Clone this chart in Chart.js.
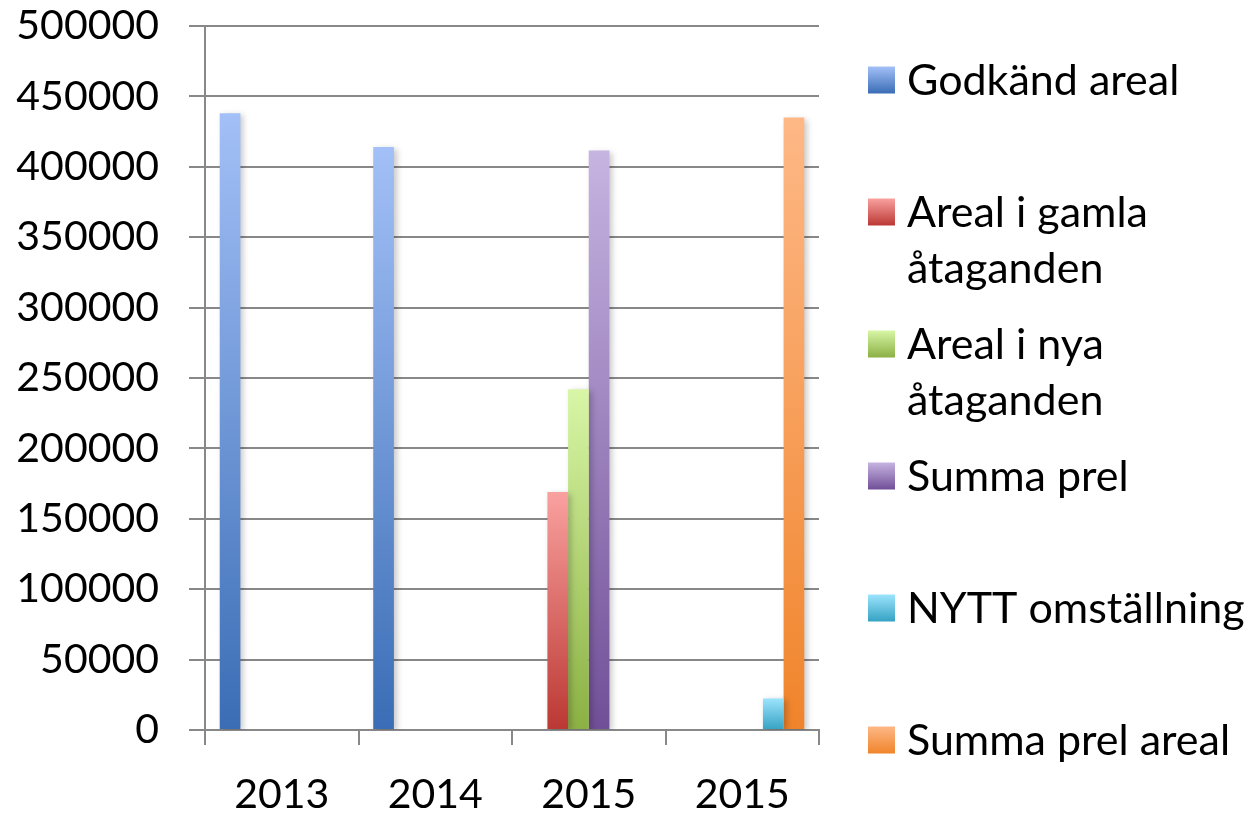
<!DOCTYPE html>
<html>
<head>
<meta charset="utf-8">
<script src="https://cdn.jsdelivr.net/npm/chart.js@4.4.1/dist/chart.umd.min.js"></script>
<style>
  html, body { margin: 0; padding: 0; background: #fff; }
  #wrap { width: 1254px; height: 813px; }
</style>
</head>
<body>
<div id="wrap"><canvas id="myChart" width="1254" height="813"></canvas></div>
<script>
const years = ['2013', '2014', '2015', '2015'];

const godkandAreal = [438000, 414000, null, null];
const arealGamla = [null, null, 169000, null];
const arealNya = [null, null, 242000, null];
const summaPrel = [null, null, 411500, null];
const nyttOmstallning = [null, null, null, 22400];
const summaPrelAreal = [null, null, null, 435000];

const yTicks = [0, 50000, 100000, 150000, 200000, 250000, 300000, 350000, 400000, 450000, 500000];

// legend text, split where the original wraps
const legendLabels = [
  ['Godkänd areal'],
  ['Areal i gamla', 'åtaganden'],
  ['Areal i nya', 'åtaganden'],
  ['Summa prel'],
  ['NYTT omställning'],
  ['Summa prel areal'],
];

// light top / dark bottom, like the office gradient fill
const shades = [
  ['#a3c0f7', '#3a6db5'],
  ['#f9a19f', '#bb3833'],
  ['#d8f6a6', '#8bb043'],
  ['#c6b4e1', '#714f98'],
  ['#9ce4fd', '#35a2c3'],
  ['#feb886', '#f0842b'],
];

const FONT = 'Lato, "Open Sans", sans-serif';

const barFill = (idx) => (ctx) => {
  const chart = ctx.chart;
  const y = chart.scales && chart.scales.y;
  if (!chart.chartArea || !y || ctx.raw == null) return shades[idx][1];
  const top = y.getPixelForValue(ctx.raw);
  const bottom = y.getPixelForValue(0);
  if (!(bottom > top)) return shades[idx][1];
  const g = chart.ctx.createLinearGradient(0, top, 0, bottom);
  g.addColorStop(0, shades[idx][0]);
  g.addColorStop(1, shades[idx][1]);
  return g;
};

const series = [godkandAreal, arealGamla, arealNya, summaPrel, nyttOmstallning, summaPrelAreal];

const chartData = {
  labels: years,
  datasets: series.map((values, i) => ({
    label: legendLabels[i].join(' '),
    data: values,
    backgroundColor: barFill(i),
    borderWidth: 0,
    barPercentage: 1.0,
    categoryPercentage: 0.808,
  })),
};

// soft drop shadow behind the bars
const barShadow = {
  id: 'barShadow',
  beforeDatasetsDraw(chart) {
    const c = chart.ctx;
    c.save();
    c.shadowColor = 'rgba(0, 0, 0, 0.22)';
    c.shadowBlur = 6;
    c.shadowOffsetX = 3;
    c.shadowOffsetY = 2;
  },
  afterDatasetsDraw(chart) {
    chart.ctx.restore();
  },
};

// legend on the right, drawn by hand so labels can wrap
const sideLegend = {
  id: 'sideLegend',
  afterDraw(chart) {
    const c = chart.ctx;
    c.save();
    c.font = '43px ' + FONT;
    c.textBaseline = 'middle';
    c.textAlign = 'left';
    legendLabels.forEach((lines, i) => {
      const cy = 80 + i * 132;
      const g = c.createLinearGradient(0, cy - 13.5, 0, cy + 13.5);
      g.addColorStop(0, shades[i][0]);
      g.addColorStop(1, shades[i][1]);
      c.fillStyle = g;
      c.fillRect(868, cy - 13.5, 27, 27);
      c.fillStyle = '#000';
      lines.forEach((t, j) => c.fillText(t, 907, cy + 1 + j * 56));
    });
    c.restore();
  },
};

const config = {
  type: 'bar',
  data: chartData,
  options: {
    responsive: false,
    animation: false,
    layout: { padding: { top: 0, right: 435, left: 0, bottom: 0 } },
    plugins: {
      legend: { display: false },
      tooltip: { enabled: false },
    },
    scales: {
      x: {
        offset: true,
        grid: {
          offset: true,
          drawOnChartArea: false,
          drawTicks: true,
          tickLength: 15,
          color: '#888',
          lineWidth: 2,
        },
        border: { display: true, color: '#888', width: 2 },
        ticks: {
          color: '#000',
          font: { family: FONT, size: 41 },
          padding: 25,
        },
        afterFit(s) { s.height = 83; },
      },
      y: {
        min: 0,
        max: 500000,
        afterBuildTicks(s) { s.ticks = yTicks.map((v) => ({ value: v })); },
        grid: {
          color: '#888',
          lineWidth: 2,
          tickLength: 16,
        },
        border: { display: true, color: '#888', width: 2 },
        ticks: {
          color: '#000',
          font: { family: FONT, size: 41 },
          padding: 30,
          callback: (v) => String(v),
        },
        afterFit(s) {
          s.width = 205;
          s.paddingTop = 26;
          s.paddingBottom = 0;
        },
      },
    },
  },
  plugins: [barShadow, sideLegend],
};

const myChart = new Chart(document.getElementById('myChart'), config);
</script>
</body>
</html>
